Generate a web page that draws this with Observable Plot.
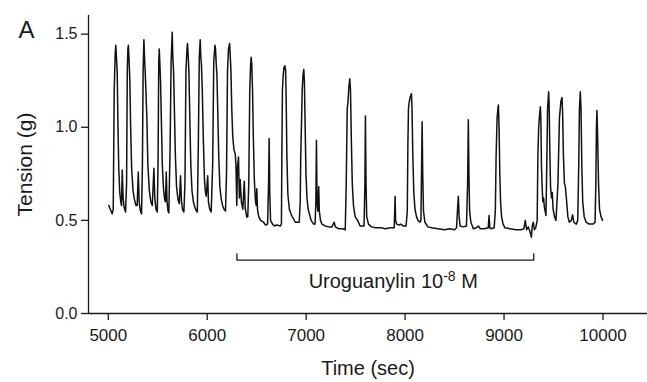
<!DOCTYPE html>
<html>
<head>
<meta charset="utf-8">
<script src="https://cdn.jsdelivr.net/npm/d3@7"></script>
<script src="https://cdn.jsdelivr.net/npm/@observablehq/plot@0.6"></script>
<style>
  html, body { margin: 0; padding: 0; background: #fff; }
  svg { display: block; }
</style>
</head>
<body>
<div id="chart"></div>
<script>
// Tension trace [time (sec), tension (g)]
const trace = [
  [5005,0.58],[5020,0.56],[5040,0.535],[5050,0.56],
  [5060,1.2],[5070,1.40],[5076,1.44],[5082,1.38],[5090,1.30],[5098,1.0],[5106,0.78],[5116,0.65],[5126,0.60],[5134,0.58],
  [5141,0.77],[5150,0.62],[5160,0.57],[5175,0.545],
  [5185,0.7],[5192,1.3],[5198,1.42],[5203,1.44],[5210,1.36],[5218,1.25],[5226,1.0],[5236,0.78],[5250,0.66],[5265,0.61],[5280,0.58],[5292,0.58],
  [5303,0.76],[5312,0.6],[5325,0.55],[5336,0.535],
  [5345,0.8],[5352,1.3],[5360,1.47],[5366,1.38],[5372,1.31],[5380,1.2],[5390,1.05],[5400,0.8],[5415,0.66],[5430,0.6],[5445,0.58],
  [5461,0.78],[5470,0.62],[5482,0.56],[5495,0.545],
  [5503,0.8],[5510,1.35],[5515,1.42],[5520,1.36],[5528,1.25],[5536,1.05],[5546,0.8],[5558,0.67],[5570,0.61],[5578,0.6],
  [5586,0.76],[5594,0.6],[5604,0.55],[5612,0.54],
  [5625,0.9],[5635,1.35],[5646,1.51],[5652,1.38],[5660,1.3],[5668,1.1],[5678,0.85],[5690,0.68],[5705,0.61],[5718,0.59],
  [5730,0.74],[5740,0.6],[5752,0.555],[5764,0.545],
  [5775,0.7],[5785,1.3],[5795,1.42],[5801,1.45],[5808,1.38],[5815,1.3],[5824,1.05],[5834,0.8],[5846,0.66],[5860,0.6],[5875,0.57],[5890,0.55],[5900,0.545],
  [5910,0.9],[5920,1.38],[5929,1.47],[5935,1.38],[5942,1.33],[5950,1.2],[5960,0.95],[5972,0.72],[5980,0.66],[5990,0.63],
  [6005,0.74],[6012,0.6],[6025,0.56],[6040,0.545],
  [6055,0.8],[6066,1.35],[6078,1.44],[6084,1.42],[6090,1.35],[6098,1.28],[6106,1.1],[6116,0.85],[6128,0.68],[6140,0.62],[6155,0.58],[6170,0.56],[6185,0.55],
  [6195,0.75],[6205,1.3],[6215,1.42],[6226,1.45],[6233,1.38],[6240,1.3],[6248,1.1],[6258,0.95],[6270,0.88],
  [6283,0.857],[6290,0.8],[6299,0.58],[6305,0.78],[6316,0.84],[6325,0.62],[6333,0.72],[6345,0.6],[6360,0.56],[6374,0.71],[6385,0.56],[6400,0.517],[6410,0.52],
  [6420,0.7],[6430,1.2],[6438,1.33],[6444,1.376],[6450,1.34],[6458,1.2],[6466,0.95],[6476,0.72],[6488,0.6],[6496,0.58],[6501,0.67],[6508,0.56],[6520,0.52],[6540,0.5],[6569,0.49],[6590,0.475],[6610,0.48],
  [6620,0.7],[6626,0.94],[6632,0.65],[6640,0.5],[6660,0.48],[6680,0.47],[6700,0.475],[6740,0.47],[6750,0.48],
  [6755,0.9],[6760,1.2],[6768,1.28],[6776,1.32],[6784,1.33],[6792,1.31],[6798,1.15],[6805,0.85],[6815,0.64],[6830,0.56],[6850,0.53],[6870,0.51],[6890,0.49],[6930,0.49],
  [6940,0.6],[6945,0.84],[6952,1.0],[6960,1.2],[6968,1.28],[6976,1.31],[6982,1.25],[6990,1.0],[6998,0.75],[7008,0.62],[7020,0.56],[7035,0.53],[7050,0.5],[7075,0.48],[7090,0.48],
  [7098,0.6],[7104,0.93],[7110,0.6],[7118,0.55],[7127,0.68],[7133,0.55],[7145,0.5],[7160,0.48],[7190,0.47],[7230,0.465],[7260,0.465],[7283,0.49],[7295,0.465],[7330,0.455],[7370,0.455],[7395,0.45],
  [7405,0.7],[7415,1.1],[7422,1.13],[7432,1.22],[7441,1.26],[7448,1.2],[7456,0.95],[7466,0.7],[7478,0.58],[7495,0.52],[7520,0.5],[7545,0.47],[7585,0.47],
  [7594,0.7],[7599,1.06],[7605,0.7],[7612,0.52],[7630,0.48],[7660,0.465],[7700,0.46],[7760,0.46],[7800,0.455],[7850,0.46],[7890,0.46],
  [7895,0.55],[7899,0.63],[7904,0.5],[7915,0.48],[7940,0.475],[7955,0.48],[7980,0.47],[8010,0.47],
  [8022,0.55],[8028,0.9],[8034,1.1],[8040,1.13],[8050,1.16],[8064,1.18],[8070,1.1],[8078,0.85],[8088,0.65],[8100,0.56],[8115,0.52],[8130,0.5],[8150,0.49],[8160,0.5],
  [8167,0.8],[8172,1.03],[8178,0.75],[8186,0.55],[8200,0.49],[8230,0.465],[8270,0.46],[8330,0.455],[8400,0.45],[8450,0.455],[8500,0.45],[8520,0.46],
  [8530,0.56],[8538,0.63],[8546,0.52],[8556,0.47],[8590,0.465],[8620,0.47],
  [8632,0.7],[8639,1.04],[8645,0.75],[8652,0.55],[8665,0.49],[8690,0.455],[8720,0.46],[8740,0.47],[8760,0.455],[8800,0.455],[8840,0.46],
  [8849,0.526],[8856,0.46],[8870,0.455],[8900,0.46],
  [8912,0.55],[8920,0.85],[8930,1.05],[8938,1.1],[8943,1.12],[8950,1.0],[8957,0.75],[8965,0.6],[8975,0.52],[8990,0.48],[9010,0.46],[9060,0.455],[9120,0.45],[9170,0.45],[9200,0.455],
  [9215,0.5],[9228,0.45],[9245,0.465],[9262,0.44],[9276,0.41],[9285,0.47],[9296,0.49],[9306,0.45],[9320,0.46],
  [9335,0.5],[9342,0.85],[9350,1.0],[9358,1.06],[9367,1.11],[9372,1.05],[9378,0.8],[9385,0.68],[9392,0.6],[9400,0.62],[9408,0.57],[9424,0.526],
  [9432,0.8],[9440,1.1],[9446,1.15],[9451,1.19],[9456,1.12],[9462,0.9],[9470,0.68],[9480,0.62],[9488,0.65],[9496,0.56],[9510,0.52],[9525,0.5],
  [9545,0.7],[9560,1.05],[9575,1.14],[9586,1.16],[9592,1.08],[9600,0.85],[9610,0.7],[9620,0.68],[9630,0.62],[9645,0.52],[9660,0.49],[9680,0.5],[9693,0.53],[9705,0.49],[9730,0.48],[9745,0.5],
  [9755,0.8],[9762,1.1],[9771,1.19],[9778,1.1],[9786,0.8],[9795,0.6],[9810,0.52],[9830,0.49],[9860,0.48],[9900,0.48],[9920,0.49],
  [9928,0.7],[9934,1.0],[9939,1.09],[9946,0.95],[9955,0.7],[9965,0.56],[9980,0.52],[9996,0.5]
];

const xTicks = [5000, 6000, 7000, 8000, 9000, 10000];
const yTicks = [0.0, 0.5, 1.0, 1.5];
const xDomain = [4800, 10450];
const yDomain = [0, 1.6];

// Treatment bracket
const bracketStart = 6300;
const bracketEnd = 9300;
const bracketLevel = 0.287;
const bracketTipLevel = 0.32;
const bracketLabelX = 7880;
const bracketLabelY = 0.172;
const bracketLabel = "Uroguanylin 10-8 M";

const panelLabel = "A";
const xLabel = "Time (sec)";
const yLabel = "Tension (g)";

const ink = "#1a1a1a";
const bracket = [
  [bracketStart, bracketTipLevel], [bracketStart, bracketLevel],
  [bracketEnd, bracketLevel], [bracketEnd, bracketTipLevel]
];

const chart = Plot.plot({
  width: 647,
  height: 382,
  marginLeft: 88,
  marginRight: 0,
  marginTop: 15,
  marginBottom: 69,
  style: { fontFamily: "'Liberation Sans', Arial, sans-serif", background: "#fff", color: ink },
  x: { domain: xDomain, label: null },
  y: { domain: yDomain, label: null },
  marks: [
    Plot.axisX(xTicks, { tickSize: 7, tickPadding: 8, fontSize: 17, tickFormat: d => String(d), stroke: ink, strokeWidth: 1.3, fill: ink, label: null }),
    Plot.axisY(yTicks, { tickSize: 7, tickPadding: 4, fontSize: 16, tickFormat: d3.format(".1f"), stroke: ink, strokeWidth: 1.3, fill: ink, label: null }),
    Plot.ruleY([0], { stroke: ink, strokeWidth: 1.3 }),
    Plot.ruleX([xDomain[0]], { stroke: ink, strokeWidth: 1.3 }),
    Plot.line(trace, { x: d => d[0], y: d => d[1], stroke: "#111", strokeWidth: 1.5 }),
    Plot.line(bracket, { x: d => d[0], y: d => d[1], stroke: ink, strokeWidth: 1.3 }),
    Plot.text([bracketLabel], { x: bracketLabelX, y: bracketLabelY, text: d => d, fontSize: 20, fill: ink, textAnchor: "middle" }),
    Plot.text([xLabel], { frameAnchor: "bottom", dy: 61, lineAnchor: "bottom", fontSize: 20, fill: ink, textAnchor: "middle" }),
    Plot.text([yLabel], { frameAnchor: "left", dx: -57, rotate: -90, lineAnchor: "bottom", fontSize: 21, fill: ink, textAnchor: "middle" }),
    Plot.text([panelLabel], { frameAnchor: "top-left", dx: -70, dy: 22, lineAnchor: "bottom", textAnchor: "start", fontSize: 24, fill: ink })
  ]
});

// superscript the exponent in the bracket label
d3.select(chart).selectAll("text").filter(function () { return this.textContent === bracketLabel; })
  .each(function () {
    const t = d3.select(this);
    t.text(null);
    t.append("tspan").text("Uroguanylin 10");
    t.append("tspan").attr("dy", -7).attr("font-size", "14px").text("-8");
    t.append("tspan").attr("dy", 7).text(" M");
  });

document.getElementById("chart").appendChild(chart);
</script>
</body>
</html>
